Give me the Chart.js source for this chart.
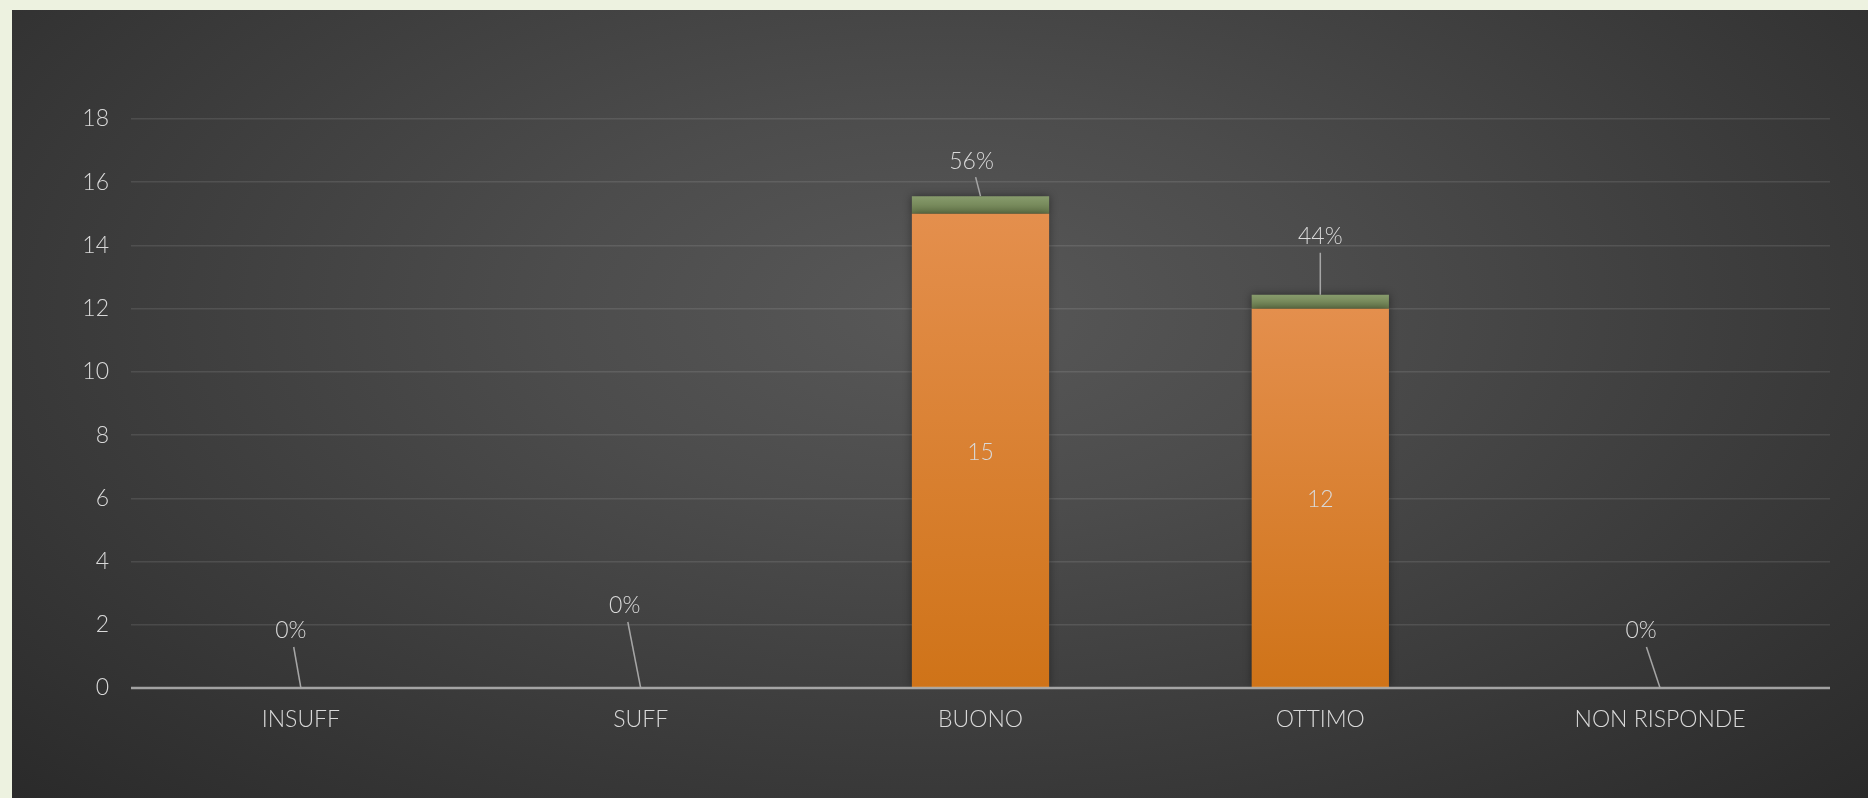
<!DOCTYPE html>
<html>
<head>
<meta charset="utf-8">
<script src="https://cdn.jsdelivr.net/npm/chart.js@4/dist/chart.umd.min.js"></script>
<style>
  html, body { margin: 0; padding: 0; }
  body { width: 1868px; height: 798px; background: #edf2e0; position: relative; overflow: hidden; }
  #panel {
    position: absolute; left: 12px; top: 10px; right: 0; bottom: 0;
    background: radial-gradient(ellipse farthest-corner at 50% 38%, #585858 0%, #4c4c4c 30%, #2a2a2a 100%);
  }
  #chart1 { position: absolute; left: 0; top: 0; }
</style>
</head>
<body>
<div id="panel"></div>
<canvas id="chart1" width="1868" height="798"></canvas>
<script>
var categories = ['INSUFF', 'SUFF', 'BUONO', 'OTTIMO', 'NON RISPONDE'];
var counts = [0, 0, 15, 12, 0];
var shares = [0, 0, 0.56, 0.44, 0];
// manual label placement, offset from the top of each stack (like excel dragged labels)
var shareLabelOffsets = [[-10, -57], [-16, -82], [-9, -35], [0, -58], [-19, -57]];

var textColor = '#d9d9d9';
var fontFamily = 'Lato, "Open Sans", sans-serif';

function barGradient(context, top, bottom) {
    var chart = context.chart;
    var area = chart.chartArea;
    if (!area) return top;
    var y = chart.scales.y;
    var v = context.parsed ? context.parsed.y : 0;
    var y0 = y.getPixelForValue(0);
    var y1 = y.getPixelForValue(v + (context.datasetIndex == 1 ? counts[context.dataIndex] : 0));
    var ys = context.datasetIndex == 1 ? y.getPixelForValue(counts[context.dataIndex]) : y0;
    if (!isFinite(y1) || Math.abs(ys - y1) < 1) return top;
    var g = chart.ctx.createLinearGradient(0, y1, 0, ys);
    g.addColorStop(0, top);
    g.addColorStop(1, bottom);
    return g;
}

var shadowPlugin = {
    id: 'barShadow',
    beforeDatasetsDraw: function(chart) {
        var ctx = chart.ctx;
        ctx.save();
        ctx.shadowColor = 'rgba(0,0,0,0.45)';
        ctx.shadowBlur = 9;
    },
    afterDatasetsDraw: function(chart) {
        chart.ctx.restore();
    }
};

var labelPlugin = {
    id: 'barLabels',
    afterDatasetsDraw: function(chart) {
        var ctx = chart.ctx;
        var y = chart.scales.y;
        var area = chart.chartArea;
        var y0 = y.getPixelForValue(0);
        // axis line drawn over bars
        ctx.save();
        ctx.shadowColor = 'rgba(0,0,0,0)';
        ctx.shadowBlur = 0;
        ctx.strokeStyle = 'rgba(205,205,205,0.72)';
        ctx.lineWidth = 2.5;
        ctx.beginPath();
        ctx.moveTo(area.left, y0);
        ctx.lineTo(area.right, y0);
        ctx.stroke();

        ctx.font = '300 23px ' + fontFamily;
        ctx.fillStyle = textColor;
        ctx.textAlign = 'center';
        ctx.textBaseline = 'middle';

        var meta0 = chart.getDatasetMeta(0);
        meta0.data.forEach(function(bar, i) {
            if (counts[i] > 0) {
                ctx.fillText(String(counts[i]), bar.x, (bar.y + bar.base) / 2 + 2);
            }
        });

        var meta1 = chart.getDatasetMeta(1);
        meta1.data.forEach(function(bar, i) {
            var bx = bar.x, by = bar.y;
            var lx = bx + shareLabelOffsets[i][0];
            var ly = by + shareLabelOffsets[i][1];
            ctx.fillStyle = textColor;
            ctx.fillText(Math.round(shares[i] * 100) + '%', lx, ly);
            var t = 16 / (by - ly);
            ctx.strokeStyle = '#a6a6a6';
            ctx.lineWidth = 1.5;
            ctx.beginPath();
            ctx.moveTo(lx + (bx - lx) * t, ly + 16);
            ctx.lineTo(bx, by);
            ctx.stroke();
        });
        ctx.restore();
    }
};

var ctx1 = document.getElementById('chart1');
var chart1 = new Chart(ctx1, {
    type: 'bar',
    data: {
        labels: categories,
        datasets: [{
            label: 'Risposte',
            data: counts,
            backgroundColor: function(c) { return barGradient(c, '#e48f4d', '#cf7318'); },
            borderWidth: 0
        }, {
            label: 'Percentuale',
            data: shares,
            backgroundColor: function(c) { return barGradient(c, '#889c6d', '#67794b'); },
            borderWidth: 0
        }]
    },
    options: {
        animation: false,
        responsive: false,
        devicePixelRatio: 1,
        layout: { padding: { top: 119, right: 38, left: 0, bottom: 0 } },
        datasets: { bar: { categoryPercentage: 1.0, barPercentage: 0.404 } },
        plugins: {
            legend: { display: false },
            tooltip: { enabled: false }
        },
        scales: {
            x: {
                stacked: true,
                grid: { display: false, drawTicks: false },
                border: { display: false },
                ticks: { color: textColor, padding: 18, font: { family: fontFamily, size: 23, weight: '300' } },
                afterFit: function(scale) { scale.height = 110; }
            },
            y: {
                stacked: true,
                min: 0,
                max: 18,
                ticks: { stepSize: 2, color: textColor, padding: 22, font: { family: fontFamily, size: 23, weight: '300' } },
                grid: {
                    drawTicks: false,
                    lineWidth: 1.5,
                    color: function(c) { return c.tick && c.tick.value === 0 ? 'rgba(0,0,0,0)' : 'rgba(255,255,255,0.1)'; }
                },
                border: { display: false },
                afterFit: function(scale) { scale.width = 131; }
            }
        }
    },
    plugins: [shadowPlugin, labelPlugin]
});
</script>
</body>
</html>
